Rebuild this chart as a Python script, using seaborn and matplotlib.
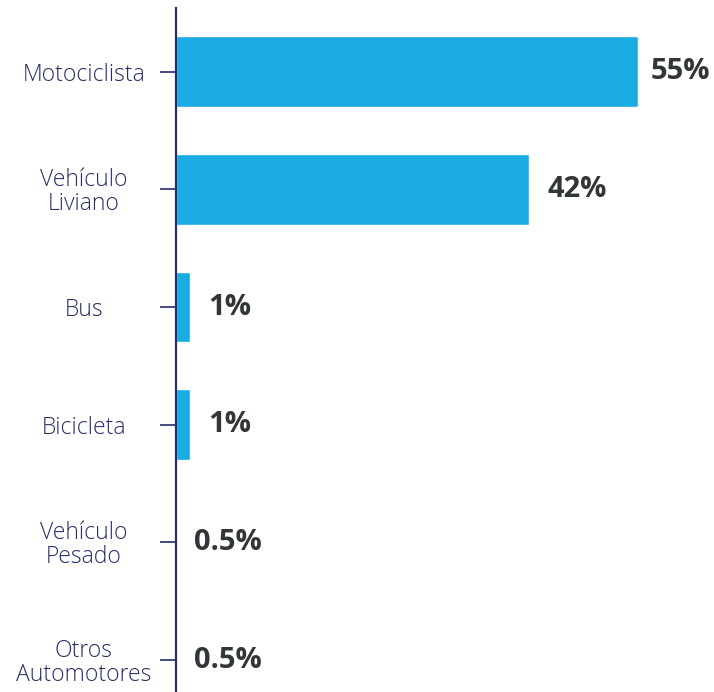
import pandas as pd
import matplotlib.pyplot as plt
import seaborn as sns

sns.set_style("white")
plt.rcParams["font.family"] = ["Open Sans", "DejaVu Sans"]

categorias = ["Motociclista", "Vehículo\nLiviano", "Bus", "Bicicleta",
              "Vehículo\nPesado", "Otros\nAutomotores"]
valores = [55, 42, 1.7, 1.7, 0, 0]
etiquetas = ["55%", "42%", "1%", "1%", "0.5%", "0.5%"]

AZUL = "#1aabe2"
NAVY = "#262e68"

df = pd.DataFrame({"categoria": categorias, "valor": valores})

fig = plt.figure(figsize=(7.14, 6.92), dpi=100)
ax = fig.add_axes([176 / 714, 0, 538 / 714, 684 / 692])

sns.barplot(data=df, y="categoria", x="valor", color=AZUL, width=0.6,
            saturation=1, ax=ax)

ax.set_xlim(0, 64)
ax.set_ylim(5.27, -0.54)
ax.set_xlabel("")
ax.set_ylabel("")
ax.set_xticks([])

for s in ["top", "right", "bottom"]:
    ax.spines[s].set_visible(False)
ax.spines["left"].set_color(NAVY)
ax.spines["left"].set_linewidth(1.6)

ax.tick_params(axis="y", left=True, length=11.5, width=1.2, color=NAVY,
               pad=55, labelsize=16.5, labelcolor=NAVY)
for lab in ax.get_yticklabels():
    lab.set_horizontalalignment("center")
    lab.set_fontweight("light")
    lab.set_linespacing(1.0)

for i, (v, t) in enumerate(zip(valores, etiquetas)):
    ax.annotate(t, xy=(v, i), xytext=(9 if v > 50 else 13, 0),
                textcoords="offset points", ha="left", va="center",
                fontsize=21, fontweight="bold", color="#333638")

plt.savefig("out.png", dpi=100)
plt.close()
